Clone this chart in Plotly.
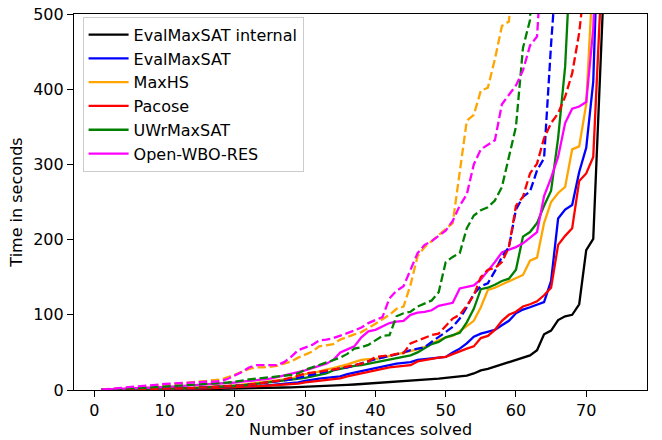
import plotly.graph_objects as go

# ---- data (instances solved -> time in seconds), cactus-plot values ----
evalmaxsat_internal = [0.1,0.1,0.2,0.2,0.3,0.3,0.4,0.5,0.5,0.6,
    0.7,0.8,0.9,1.0,1.1,1.2,1.3,1.5,1.6,1.8,
    2.0,2.2,2.4,2.6,2.8,3.0,3.3,3.6,3.9,4.2,
    4.6,5.0,5.4,5.8,6.3,6.8,7.3,7.9,8.5,9.5,
    10,10.5,11,11.5,12,13,13.5,14,15,16,
    17,18,19,22,26,28,31,34,38,41,
    43,46,53,74,79,93,98,100,114,186,
    201,420,650]

evalmaxsat = [0.2,0.3,0.4,0.5,0.6,0.7,0.8,0.9,1.0,1.2,
    1.4,1.6,1.8,2.0,2.2,2.5,2.8,3.1,3.4,3.8,
    4.2,4.7,5.2,5.8,6.5,7.2,8,9,10,12,
    14,15,16,17,18,21,23,25,27,29,
    32,34,35,36,37,40,41,42,43,44,
    50,55,62,71,75,77,80,86,92,102,
    107,110,113,117,145,228,240,246,290,322,
    410,700]

maxhs = [0.3,0.4,0.5,0.6,0.8,1.0,1.2,1.4,1.6,1.8,
    2.0,2.3,2.6,3.0,3.4,3.8,4.3,4.8,5.4,6,
    7,8,9,10,11,12,13.5,15,18,21,
    22,25,27,29,31,34,37,40,41,41,
    43,45,48,50,51,54,57,62,66,70,
    72,78,85,92,110,133,136,140,144,148,
    153,172,176,222,250,262,270,320,324,380,
    560]

pacose = [0.1,0.2,0.3,0.4,0.5,0.6,0.7,0.8,0.9,1.0,
    1.2,1.4,1.6,1.8,2.0,2.3,2.6,2.9,3.2,3.6,
    4.0,4.5,5.0,5.5,6,6.5,7,7.5,8.5,10,
    11,12,13,14,15.5,18,20,23,25,26,
    28,30,31,32,33,38,40,41,43,44,
    48,52,55,58,69,72,80,92,100,104,
    111,114,118,126,136,193,205,215,278,288,
    310,510,750]

uwrmaxsat = [0.2,0.3,0.4,0.5,0.6,0.8,1.0,1.2,1.4,1.6,
    1.8,2.0,2.3,2.6,3.0,3.4,3.8,4.3,4.8,5.4,
    6,7,8,9,10,11,12,13,14.5,16,
    18,20,22,26,28,31,32,33,35,37,
    39,41,43,44,46,50,55,61,64,70,
    73,76,90,108,134,136,140,145,148,160,
    204,210,222,245,265,335,430,620]

openwbo_res = [0.5,0.8,1.1,1.5,2,2.4,2.8,3.2,3.6,4,
    4.5,5,5.5,6,6.5,7,7.5,8,9,10,
    11,12,13,14,15,17,19,21,23,26,
    29,32,35,40,50,54,58,70,78,80,
    84,89,91,92,100,103,104,106,112,114,
    116,135,137,139,147,158,170,183,186,190,
    195,202,210,258,282,310,355,374,377,383,
    480,700]

# dashed counterparts (second benchmark set, no legend entry)
evalmaxsat_b = [0.2,0.3,0.4,0.5,0.6,0.8,1.0,1.2,1.4,1.6,
    1.8,2.0,2.3,2.6,3.0,3.4,3.8,4.3,4.8,5.4,
    6,7,8,9,10,11,12,14,16,18,
    20,22,25,27,29,30,33,35,38,41,
    43,45,47,50,53,55,57,64,70,77,
    84,95,110,128,138,142,158,177,190,240,
    257,264,292,308,460,590]

maxhs_b = [0.5,1,1.5,2,3,3.5,4,5,6,6.5,
    7,8,9,10,11,12,13,14,17,20,
    24,28,30,30,31,32,35,38,43,47,
    51,58,60,61,67,71,74,77,82,88,
    94,100,108,111,140,178,190,198,205,213,
    222,290,358,366,398,402,440,484,490,620]

pacose_b = [0.2,0.3,0.4,0.5,0.6,0.8,1.0,1.2,1.4,1.6,
    1.8,2.0,2.3,2.6,3.0,3.4,3.8,4.3,4.8,5.4,
    6,7,8,9.5,11,12,14,16,19,22,
    23,24,26,27,29,31,33,35,38,44,
    45,46,48,49,62,66,70,73,75,85,
    95,100,112,126,150,160,162,170,190,245,
    257,288,301,335,355,368,390,421,475,560]

uwrmaxsat_b = [0.3,0.6,1,1.5,2,2.5,3,3.5,4,4.5,
    5,5.5,6,6.5,7,7.5,8,9,10,11,
    13,14,15,16,17,18,19,20,22,27,
    30,33,36,40,43,48,55,57,60,66,
    72,73,98,102,104,111,115,119,130,170,
    177,182,215,232,239,243,252,270,310,350,
    455,492,720]

openwbo_res_b = [0.5,1,2,3,4,4.5,5,6,7,8,
    8.5,9,10,10,11,11,11,12,15,19,
    24,30,33,33,33,33,37,44,53,56,
    60,66,67,69,72,75,79,83,89,93,
    97,122,132,138,160,182,193,198,205,212,
    225,245,260,300,320,326,332,380,392,405,
    425,458,470,620]

names = ["EvalMaxSAT internal", "EvalMaxSAT", "MaxHS", "Pacose", "UWrMaxSAT", "Open-WBO-RES"]
colors = ["black", "blue", "orange", "red", "green", "magenta"]
solid = [evalmaxsat_internal, evalmaxsat, maxhs, pacose, uwrmaxsat, openwbo_res]
dashed = [None, evalmaxsat_b, maxhs_b, pacose_b, uwrmaxsat_b, openwbo_res_b]

LW = 2.3
fig = go.Figure()
for name, col, ys in zip(names, colors, solid):
    fig.add_trace(go.Scatter(x=list(range(1, len(ys) + 1)), y=ys, mode="lines",
                             name=name, line=dict(color=col, width=LW)))
for name, col, ys in zip(names, colors, dashed):
    if ys is None:
        continue
    fig.add_trace(go.Scatter(x=list(range(1, len(ys) + 1)), y=ys, mode="lines",
                             name=name + " (2)", showlegend=False,
                             line=dict(color=col, width=LW, dash="8.5px,3.7px")))

axis_common = dict(showline=True, linecolor="black", linewidth=1.2, mirror=True,
                   ticks="outside", ticklen=6, tickwidth=1.2, tickcolor="black",
                   showgrid=False, zeroline=False, automargin=False,
                   ticklabeloverflow="allow",
                   tickfont=dict(family="DejaVu Sans", size=16, color="black"))

fig.update_layout(
    width=662, height=440,
    margin=dict(l=74, r=15, t=14, b=50),
    plot_bgcolor="white", paper_bgcolor="white",
    font=dict(family="DejaVu Sans", size=16, color="black"),
    xaxis=dict(range=[-2.9, 78.65], tickvals=[0, 10, 20, 30, 40, 50, 60, 70],
               title=dict(text="Number of instances solved", standoff=4,
                          font=dict(family="DejaVu Sans", size=16)), **axis_common),
    yaxis=dict(range=[0, 500], tickvals=[0, 100, 200, 300, 400, 500],
               title=dict(text="Time in seconds", standoff=6,
                          font=dict(family="DejaVu Sans", size=16)), **axis_common),
    legend=dict(x=0.015, y=0.993, xanchor="left", yanchor="top",
                bgcolor="rgba(255,255,255,0.8)", bordercolor="#cccccc", borderwidth=1,
                font=dict(family="DejaVu Sans", size=16, color="black"),
                itemwidth=40, tracegroupgap=4),
    showlegend=True,
)

# remove the browser's default 8px body margin so the figure fills the window
fig.write_html("out.html",
               config={"displayModeBar": False},
               post_script="document.body.style.margin='0';document.body.style.overflow='hidden';")
